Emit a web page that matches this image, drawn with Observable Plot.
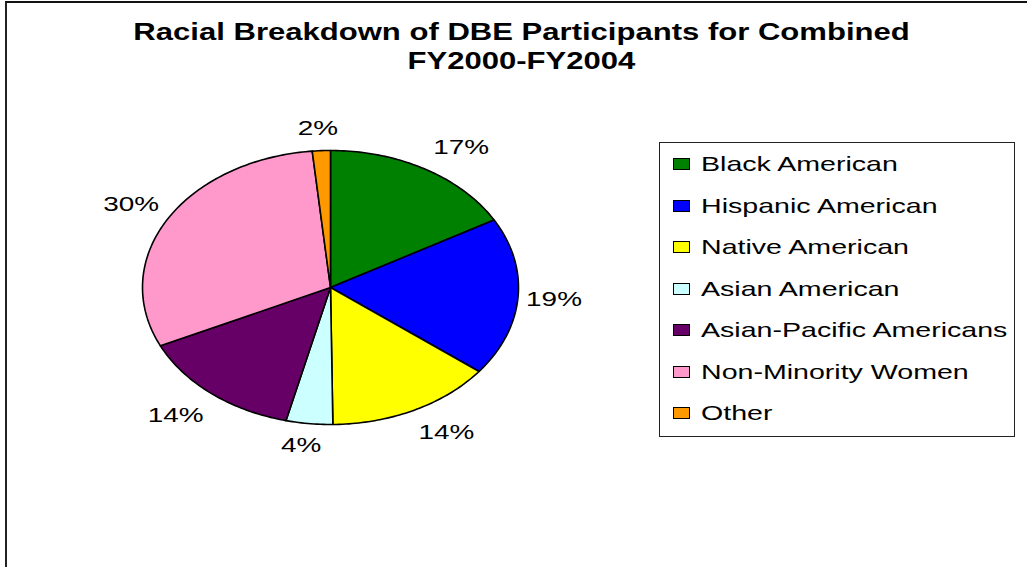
<!DOCTYPE html>
<html>
<head>
<meta charset="utf-8">
<script src="https://cdn.jsdelivr.net/npm/d3@7"></script>
<script src="https://cdn.jsdelivr.net/npm/@observablehq/plot@0.6"></script>
<style>
  body { margin: 0; background: #fff; }
  #chart { position: relative; width: 1027px; height: 567px; overflow: hidden; font-family: "Liberation Sans", Arial, sans-serif; background: #fff; }
  #frame { position: absolute; left: 5px; top: 1px; width: 1200px; height: 800px; border-left: 2px solid #222; border-top: 2px solid #111; }
  #plot { position: absolute; left: 0; top: 0; }
  #title { position: absolute; left: 0; width: 1043px; top: 17.5px; text-align: center; font-weight: bold; font-size: 23px; line-height: 29px; color: #000; }
  #title span { display: inline-block; transform: scaleX(1.35); transform-origin: center; white-space: nowrap; }
  #legend { position: absolute; left: 659px; top: 142px; width: 356px; height: 295px; box-sizing: border-box; border: 1px solid #222; }
  .sw { position: absolute; width: 17px; height: 12px; box-sizing: border-box; border: 1px solid #000; }
  .lt { position: absolute; font-size: 21px; line-height: 21px; white-space: nowrap; transform: scaleX(1.36); transform-origin: left center; color: #000; }
</style>
</head>
<body>
<div id="chart">
  <div id="frame"></div>
  <div id="plot"></div>
  <div id="title"><div><span>Racial Breakdown of DBE Participants for Combined</span></div><div><span>FY2000-FY2004</span></div></div>
  <div id="legend"></div>
</div>
<script>
// ---- data ----
const categories = ["Black American", "Hispanic American", "Native American", "Asian American", "Asian-Pacific Americans", "Non-Minority Women", "Other"];
const shares = [16.8, 18.7, 14.3, 4.0, 14.2, 30.45, 1.55];
const colors = ["#008000", "#0000FF", "#FFFF00", "#CCFFFF", "#660066", "#FF99CC", "#FF9900"];

// ---- layout constants ----
const W = 1027, H = 567;
const cx = 330, cy = 287, rx = 188, ry = 137;

// build slice polygons in unit-ellipse coordinates
const arcs = d3.pie().sort(null).value(d => d)(shares);
const total = d3.sum(shares);
const poly = [];
const lbls = [];
arcs.forEach((a, i) => {
  const cat = categories[i];
  const span = a.endAngle - a.startAngle;
  const n = Math.max(2, Math.ceil(span / (Math.PI / 180)));
  poly.push({cat, x: 0, y: 0});
  for (let k = 0; k <= n; k++) {
    const t = a.startAngle + span * k / n;
    poly.push({cat, x: Math.sin(t), y: Math.cos(t)});
  }
  poly.push({cat, x: 0, y: 0});
  const m = (a.startAngle + a.endAngle) / 2;
  const s = Math.sin(m), c = Math.cos(m);
  const xoff = 36 * Math.sign(s) * Math.min(1, Math.abs(s) * 2);
  const yoff = 22 * Math.sign(c) * Math.min(1, Math.abs(c) * 1.4);
  lbls.push({cat, x: s + xoff / rx, y: c + yoff / ry, text: Math.round(shares[i] / total * 100) + "%"});
});

const svg = Plot.plot({
  width: W,
  height: H,
  marginLeft: cx - rx,
  marginRight: W - (cx + rx),
  marginTop: cy - ry,
  marginBottom: H - (cy + ry),
  x: {domain: [-1, 1], axis: null},
  y: {domain: [-1, 1], axis: null},
  color: {domain: categories, range: colors},
  style: {background: "transparent", fontFamily: "Liberation Sans, Arial, sans-serif"},
  marks: [
    Plot.line(poly, {x: "x", y: "y", z: "cat", fill: "cat", stroke: "#000", strokeWidth: 1.6, strokeLinejoin: "round"}),
    Plot.text(lbls, {x: "x", y: "y", text: "text", fontSize: 21, fill: "#000", textAnchor: "middle", lineAnchor: "middle"})
  ]
});
document.getElementById("plot").appendChild(svg);

// horizontal stretch of label glyphs, as in the reference
svg.querySelectorAll('g[aria-label="text"] text').forEach(t => {
  let tr = t.getAttribute("transform");
  if (!tr) {
    const x = t.getAttribute("x") || 0, y = t.getAttribute("y") || 0;
    t.removeAttribute("x"); t.removeAttribute("y");
    tr = `translate(${x},${y})`;
  }
  t.setAttribute("transform", tr + " scale(1.33,1)");
});

// legend
const legend = document.getElementById("legend");
categories.forEach((cat, i) => {
  const cyRow = 164 + 41.5 * i;
  const sw = document.createElement("div");
  sw.className = "sw";
  sw.style.left = (673 - 659 - 1) + "px";
  sw.style.top = (cyRow - 6 - 142 - 1) + "px";
  sw.style.background = colors[i];
  legend.appendChild(sw);
  const tx = document.createElement("div");
  tx.className = "lt";
  tx.textContent = cat;
  tx.style.left = (701 - 659 - 1) + "px";
  tx.style.top = (171 + 41.5 * i - 17.8 - 142 - 1) + "px";
  legend.appendChild(tx);
});
</script>
</body>
</html>
